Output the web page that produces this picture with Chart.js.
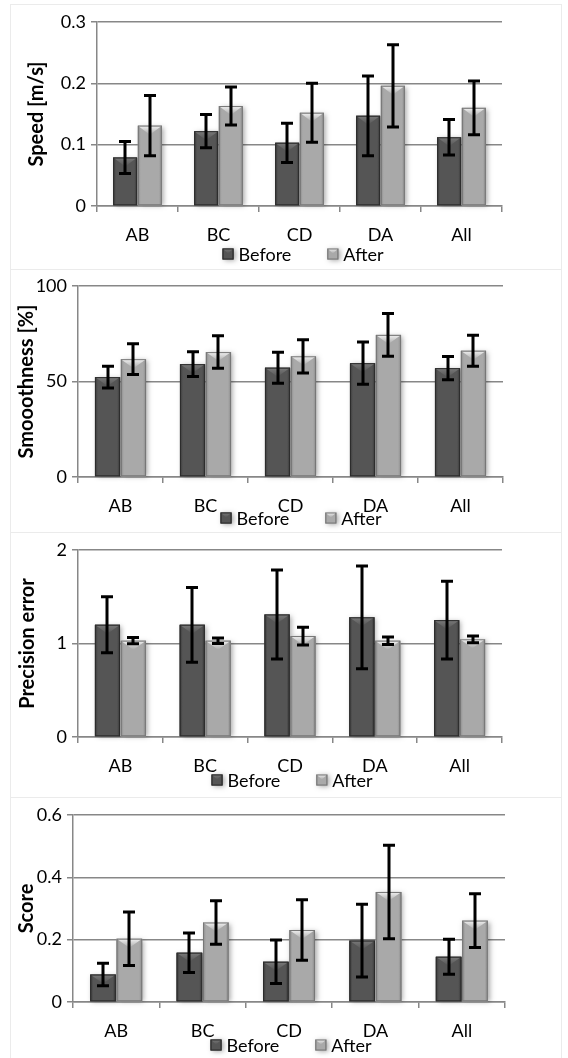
<!DOCTYPE html>
<html>
<head>
<meta charset="utf-8">
<script src="https://cdn.jsdelivr.net/npm/chart.js@4.4.1/dist/chart.umd.min.js"></script>
<style>
    html, body { margin: 0; padding: 0; background: #fff; }
    body { width: 568px; height: 1058px; position: relative; overflow: hidden; }
    .frame { position: absolute; left: 10px; width: 552px; border: 1px solid #ebebeb; box-sizing: border-box; }
    .panel { position: absolute; left: 0; width: 568px; }
    .panel canvas { display: block; }
</style>
</head>
<body>
<div class="frame" style="top:4px;height:266px"></div>
<div class="frame" style="top:269px;height:264px"></div>
<div class="frame" style="top:532px;height:266px"></div>
<div class="frame" style="top:797px;height:270px"></div>

<div class="panel" style="top:0px;height:266px"><canvas id="speedChart" width="568" height="266"></canvas></div>
<div class="panel" style="top:266px;height:266px"><canvas id="smoothChart" width="568" height="266"></canvas></div>
<div class="panel" style="top:532px;height:265px"><canvas id="precisionChart" width="568" height="265"></canvas></div>
<div class="panel" style="top:797px;height:261px"><canvas id="scoreChart" width="568" height="261"></canvas></div>

<script>
// data (means + error half-widths)
const categories = ['AB', 'BC', 'CD', 'DA', 'All'];
const seriesNames = ['Before', 'After'];

const speedBefore = [0.079, 0.122, 0.103, 0.147, 0.112];
const speedBeforeErr = [0.026, 0.027, 0.032, 0.065, 0.029];
const speedAfter = [0.131, 0.163, 0.152, 0.196, 0.160];
const speedAfterErr = [0.049, 0.031, 0.048, 0.067, 0.044];

const smoothBefore = [52.3, 59.1, 57.2, 59.6, 57.0];
const smoothBeforeErr = [5.7, 6.5, 8.1, 11.1, 6.1];
const smoothAfter = [61.7, 65.4, 63.2, 74.4, 66.1];
const smoothAfterErr = [8.0, 8.5, 8.7, 11.2, 8.1];

const precisionBefore = [1.20, 1.20, 1.31, 1.28, 1.25];
const precisionBeforeErr = [0.30, 0.40, 0.475, 0.55, 0.415];
const precisionAfter = [1.03, 1.03, 1.08, 1.03, 1.045];
const precisionAfterErr = [0.033, 0.03, 0.095, 0.04, 0.036];

const scoreBefore = [0.088, 0.158, 0.129, 0.197, 0.145];
const scoreBeforeErr = [0.036, 0.063, 0.07, 0.117, 0.056];
const scoreAfter = [0.203, 0.255, 0.231, 0.353, 0.261];
const scoreAfterErr = [0.086, 0.07, 0.097, 0.15, 0.086];

const FONT = 'Lato, "Open Sans", sans-serif';
const AXIS_GREY = '#878787';
const TICK_SIZE = 18;
const TITLE_SIZE = 20;

// bevelled "3d" look of the bars: side, body, top face, outline
const shadesBefore = { side: '#393939', body: '#555555', top: '#7a7a7a', line: '#2c2c2c' };
const shadesAfter = { side: '#8b8b8b', body: '#a9a9a9', top: '#f2f2f2', line: '#777777' };


function drawBevel(ctx, left, top, right, bottom, shades, depth) {
    const w = right - left;
    const h = bottom - top;
    if (w <= 0 || h <= 0) return;

    // soft drop shadow
    ctx.save();
    ctx.shadowColor = 'rgba(0, 0, 0, 0.35)';
    ctx.shadowBlur = 5;
    ctx.shadowOffsetX = 2;
    ctx.shadowOffsetY = 1;
    ctx.fillStyle = shades.body;
    ctx.fillRect(left, top, w, h);
    ctx.restore();

    const grad = ctx.createLinearGradient(left, 0, right, 0);
    grad.addColorStop(0, shades.side);
    grad.addColorStop(0.12, shades.body);
    grad.addColorStop(0.88, shades.body);
    grad.addColorStop(1, shades.side);
    ctx.fillStyle = grad;
    ctx.fillRect(left, top, w, h);

    // top face
    const d = Math.min(depth, h / 2, w / 2);
    const topGrad = ctx.createLinearGradient(0, top, 0, top + d);
    topGrad.addColorStop(0, shades.top);
    topGrad.addColorStop(1, shades.body);
    ctx.fillStyle = topGrad;
    ctx.beginPath();
    ctx.moveTo(left, top);
    ctx.lineTo(right, top);
    ctx.lineTo(left + w / 2, top + d);
    ctx.closePath();
    ctx.fill();

    ctx.strokeStyle = shades.line;
    ctx.lineWidth = 1;
    ctx.strokeRect(left + 0.5, top + 0.5, w - 1, h - 1);
}


// paints the bevel over every bar, then the error bars
const bevelErrorPlugin = {
    id: 'bevelError',
    afterDatasetsDraw(chart) {
        const ctx = chart.ctx;
        const yScale = chart.scales.y;

        chart.data.datasets.forEach((ds, di) => {
            const meta = chart.getDatasetMeta(di);
            meta.data.forEach(bar => {
                const p = bar.getProps(['x', 'y', 'base', 'width'], true);
                drawBevel(ctx, p.x - p.width / 2, p.y, p.x + p.width / 2, p.base, ds.shades, 9);
            });
        });

        ctx.save();
        ctx.strokeStyle = '#000';
        ctx.lineWidth = 3;
        ctx.lineCap = 'butt';
        chart.data.datasets.forEach((ds, di) => {
            const meta = chart.getDatasetMeta(di);
            meta.data.forEach((bar, i) => {
                const x = Math.round(bar.getProps(['x'], true).x);
                const hi = yScale.getPixelForValue(ds.data[i] + ds.errors[i]);
                const lo = yScale.getPixelForValue(ds.data[i] - ds.errors[i]);
                ctx.beginPath();
                ctx.moveTo(x, hi);
                ctx.lineTo(x, lo);
                ctx.moveTo(x - 6, hi);
                ctx.lineTo(x + 6, hi);
                ctx.moveTo(x - 6, lo);
                ctx.lineTo(x + 6, lo);
                ctx.stroke();
            });
        });
        ctx.restore();
    }
};


// legend below the axis labels, squeezed up like the original
const bottomLegendPlugin = {
    id: 'bottomLegend',
    afterDraw(chart, args, opts) {
        const ctx = chart.ctx;
        ctx.save();
        ctx.font = TICK_SIZE + 'px ' + FONT;
        ctx.textBaseline = 'middle';
        ctx.fillStyle = '#000';

        const box = 11;
        const items = chart.data.datasets.map(ds => ({
            ds: ds,
            w: box + 5 + ctx.measureText(ds.label).width
        }));
        const total = items.reduce((s, it) => s + it.w, 0) + opts.gap * (items.length - 1);
        let x = opts.centerX - total / 2;

        items.forEach(it => {
            drawBevel(ctx, x, opts.y - box / 2, x + box, opts.y + box / 2, it.ds.shades, 5);
            ctx.fillStyle = '#000';
            ctx.fillText(it.ds.label, x + box + 5, opts.y + 1);
            x += it.w + opts.gap;
        });
        ctx.restore();
    }
};


function renderPanel(canvasId, cfg) {
    const canvas = document.getElementById(canvasId);
    const ctx = canvas.getContext('2d');
    const W = canvas.width, H = canvas.height;
    const padLeft = cfg.titleX - 0.6 * TITLE_SIZE;

    const datasets = [
        {
            label: seriesNames[0],
            data: cfg.before,
            errors: cfg.beforeErr,
            shades: shadesBefore,
            backgroundColor: shadesBefore.body,
            categoryPercentage: 0.61, barPercentage: 0.97
        },
        {
            label: seriesNames[1],
            data: cfg.after,
            errors: cfg.afterErr,
            shades: shadesAfter,
            backgroundColor: shadesAfter.body,
            categoryPercentage: 0.61, barPercentage: 0.97
        }
    ];

    return new Chart(ctx, {
        type: 'bar',
        data: { labels: categories, datasets: datasets },
        plugins: [bevelErrorPlugin, bottomLegendPlugin],
        options: {
            responsive: false, animation: false, devicePixelRatio: 1,
            layout: { padding: { top: cfg.top, left: padLeft, right: W - cfg.right, bottom: 0 } },
            scales: {
                x: {
                    offset: true,
                    grid: { offset: true, drawOnChartArea: false, drawTicks: true, tickLength: 6, color: AXIS_GREY, lineWidth: 1.5 },
                    border: { display: true, color: AXIS_GREY, width: 1.5 },
                    ticks: { color: '#000', font: { family: FONT, size: TICK_SIZE }, padding: 12, maxRotation: 0 },
                    afterFit: function (scale) { scale.height = H - cfg.bottom; }
                },
                y: {
                    min: 0, max: cfg.max,
                    ticks: { stepSize: cfg.step, color: '#000', font: { family: FONT, size: TICK_SIZE }, padding: 5 },
                    grid: { color: AXIS_GREY, lineWidth: 1.5, tickLength: 6, drawTicks: true },
                    border: { display: true, color: AXIS_GREY, width: 1.5 },
                    title: { display: true, text: cfg.title, color: '#000', padding: 0, font: { family: FONT, size: TITLE_SIZE, weight: 'bold', lineHeight: 1.2 } },
                    afterFit: function (scale) { scale.width = cfg.left - padLeft; }
                }
            },
            plugins: {
                legend: { display: false },
                tooltip: { enabled: false },
                bottomLegend: { centerX: cfg.legendX, y: cfg.legendY, gap: 36 }
            }
        }
    });
}


renderPanel('speedChart', {
    before: speedBefore, beforeErr: speedBeforeErr, after: speedAfter, afterErr: speedAfterErr,
    title: 'Speed [m/s]', max: 0.3, step: 0.1,
    top: 22, bottom: 206, left: 97, right: 502, titleX: 37, legendX: 303, legendY: 254
});

renderPanel('smoothChart', {
    before: smoothBefore, beforeErr: smoothBeforeErr, after: smoothAfter, afterErr: smoothAfterErr,
    title: 'Smooothness [%]', max: 100, step: 50,
    top: 20, bottom: 211, left: 78, right: 503, titleX: 27, legendX: 301, legendY: 252
});

renderPanel('precisionChart', {
    before: precisionBefore, beforeErr: precisionBeforeErr, after: precisionAfter, afterErr: precisionAfterErr,
    title: 'Precision error', max: 2, step: 1,
    top: 18, bottom: 205, left: 78, right: 502, titleX: 28, legendX: 292, legendY: 248
});

renderPanel('scoreChart', {
    before: scoreBefore, beforeErr: scoreBeforeErr, after: scoreAfter, afterErr: scoreAfterErr,
    title: 'Score', max: 0.6, step: 0.2,
    top: 18, bottom: 205, left: 73, right: 505, titleX: 27, legendX: 291, legendY: 248
});
</script>
</body>
</html>
